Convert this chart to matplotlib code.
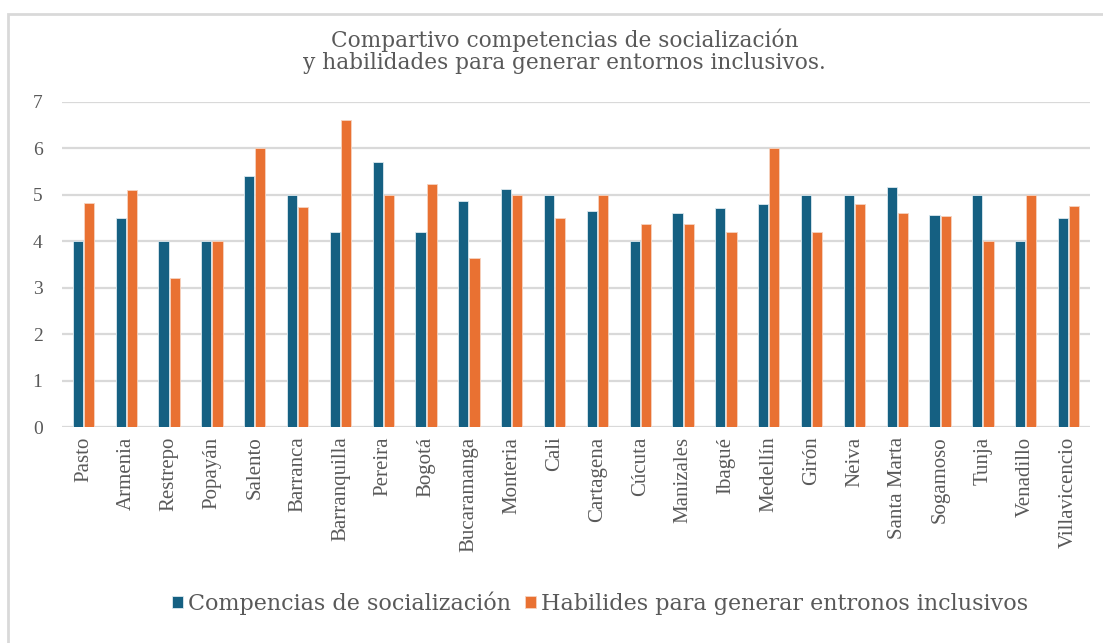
import numpy as np
import matplotlib.pyplot as plt
from matplotlib.patches import Rectangle

# Ciudades y puntajes promedio por competencia
ciudades = ["Pasto", "Armenia", "Restrepo", "Popayán", "Salento", "Barranca",
            "Barranquilla", "Pereira", "Bogotá", "Bucaramanga", "Monteria", "Cali",
            "Cartagena", "Cúcuta", "Manizales", "Ibagué", "Medellín", "Girón",
            "Neiva", "Santa Marta", "Sogamoso", "Tunja", "Venadillo", "Villavicencio"]
socializacion = [4.0, 4.5, 4.0, 4.0, 5.4, 5.0, 4.2, 5.7, 4.2, 4.86, 5.12, 5.0,
                 4.65, 4.0, 4.61, 4.72, 4.8, 5.0, 5.0, 5.17, 4.57, 5.0, 4.0, 4.5]
entornos = [4.83, 5.1, 3.2, 4.0, 6.0, 4.74, 6.61, 5.0, 5.24, 3.65, 5.0, 4.5,
            5.0, 4.37, 4.37, 4.2, 6.0, 4.2, 4.8, 4.61, 4.54, 4.0, 5.0, 4.77]

azul = "#156082"
naranja = "#E97132"
gris = "#595959"

fig = plt.figure(figsize=(11.03, 6.43), dpi=100)

# marco del grafico
fig.patches.append(Rectangle((8 / 1103, -0.05), 1.2, 1 - 14 / 643 + 0.05,
                             transform=fig.transFigure, fill=False,
                             edgecolor="#D9D9D9", linewidth=2))

ax = fig.add_axes([62 / 1103, 1 - 427 / 643, 1028 / 1103, 325 / 643])

x = np.arange(len(ciudades))
w = 0.235
ax.bar(x - 0.13, socializacion, w, color=azul, edgecolor="#dce9ef", linewidth=0.6,
       label="Compencias de socialización", zorder=3)
ax.bar(x + 0.13, entornos, w, color=naranja, edgecolor="#f6d3c0", linewidth=0.6,
       label="Habilides para generar entronos inclusivos", zorder=3)

ax.set_xlim(-0.5, len(ciudades) - 0.5)
ax.set_ylim(0, 7)
ax.set_yticks(range(8))
ax.yaxis.grid(True, color="#D9D9D9", linewidth=1.6, zorder=0)
for s in ax.spines.values():
    s.set_visible(False)
ax.tick_params(axis="both", length=0, colors=gris)
ax.tick_params(axis="y", pad=14)
ax.tick_params(axis="x", pad=7)
ax.set_xticks(x)
ax.set_xticklabels(ciudades, rotation=90, fontsize=15, family="Liberation Serif",
                   color=gris)
for t in ax.get_yticklabels():
    t.set_fontfamily("Liberation Serif")
    t.set_fontsize(14)
    t.set_color(gris)

fig.text(0.512, 1 - 40 / 643, "Compartivo competencias de socialización",
         ha="center", va="center", fontsize=15.6, family="DejaVu Serif", color=gris)
fig.text(0.512, 1 - 63 / 643, "y habilidades para generar entornos inclusivos.",
         ha="center", va="center", fontsize=15.6, family="DejaVu Serif", color=gris)

ley = fig.legend(loc="center", bbox_to_anchor=(0.544, 1 - 603 / 643), ncol=2,
                 frameon=False, handlelength=0.5, handleheight=0.5,
                 handletextpad=0.25, columnspacing=0.6,
                 prop={"family": "DejaVu Serif", "size": 16})
for t in ley.get_texts():
    t.set_color(gris)

fig.savefig("out.png", dpi=100, facecolor="white")
